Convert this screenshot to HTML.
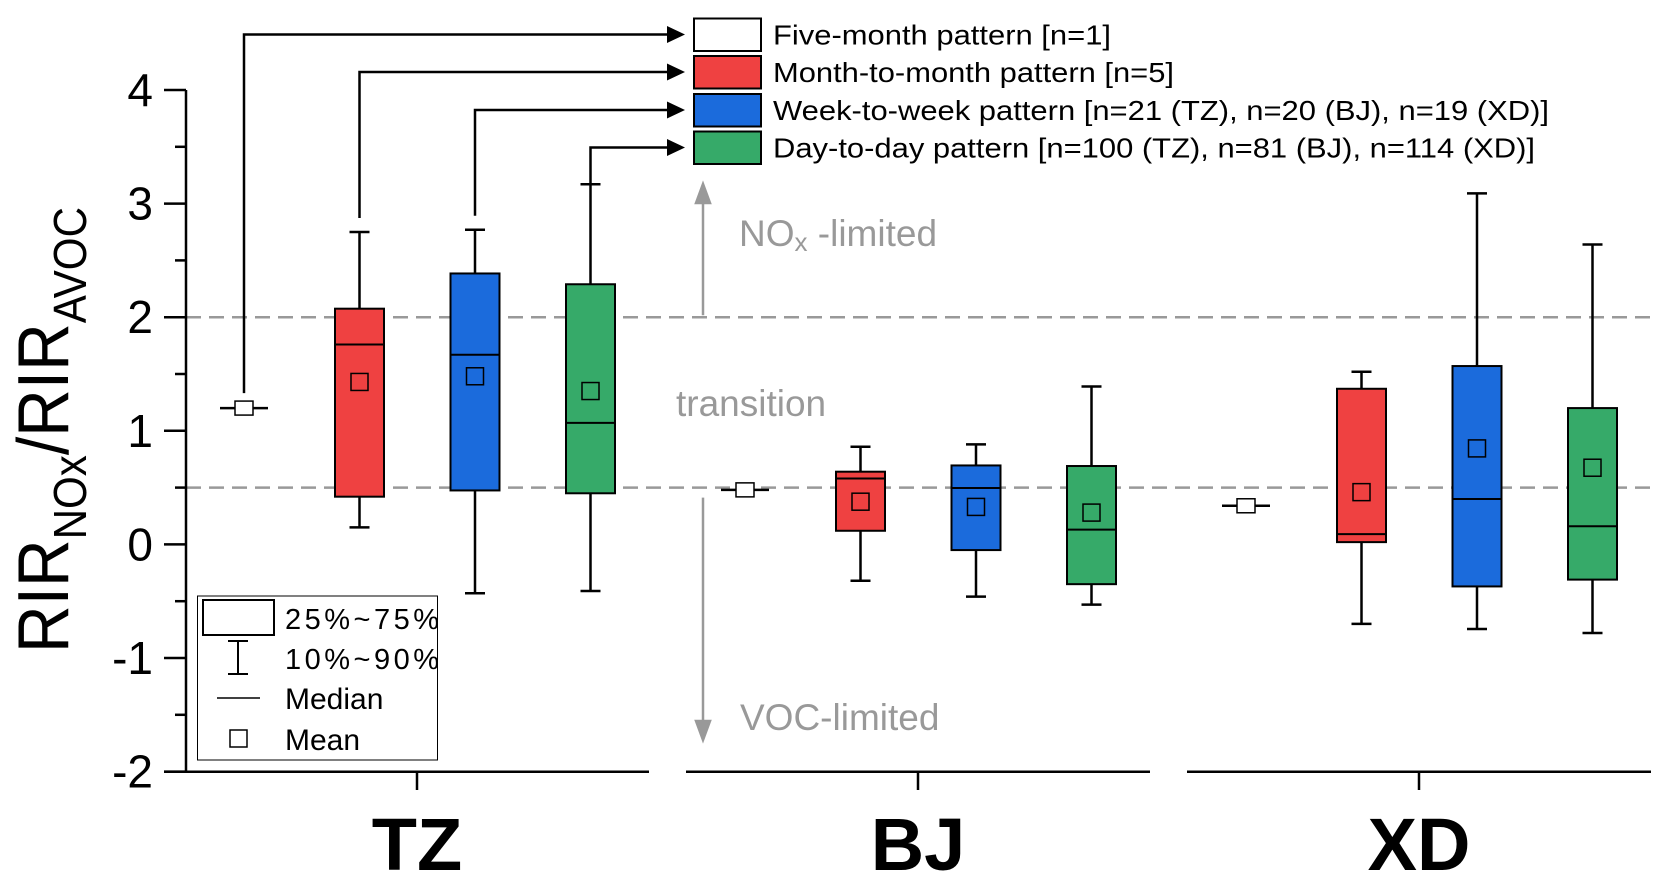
<!DOCTYPE html>
<html><head><meta charset="utf-8"><style>
html,body{margin:0;padding:0;background:#fff;}
svg{display:block;font-family:"Liberation Sans",Arial,sans-serif;}
</style></head><body>
<svg id="chart" width="1671" height="888" viewBox="0 0 1671 888" xmlns="http://www.w3.org/2000/svg">
<g id="grid"></g>
<g id="axes"></g>
<g id="boxes"></g>
<g id="legend"></g>
<g id="annot">
  <text x="739" y="246" font-size="37" fill="#999">NO<tspan font-size="26" dy="5">x</tspan><tspan dy="-5"> -limited</tspan></text>
  <text x="676" y="416" font-size="37" fill="#999">transition</text>
  <text x="740" y="730" font-size="37" fill="#999">VOC-limited</text>
</g>
<text transform="translate(68,430) rotate(-90)" text-anchor="middle" font-size="72" textLength="446" lengthAdjust="spacingAndGlyphs">RIR<tspan font-size="46" dy="18">NOx</tspan><tspan dy="-18">/RIR</tspan><tspan font-size="46" dy="18">AVOC</tspan></text>
<g>
  <rect x="197.5" y="596" width="240" height="164" fill="#fff" stroke="#000" stroke-width="1"/>
  <rect x="203" y="600" width="71" height="35" fill="#fff" stroke="#000" stroke-width="2"/>
  <text x="285" y="629" font-size="29" textLength="154" lengthAdjust="spacing">25%~75%</text>
  <path d="M228 641H248M238 641V674M228 674H248" stroke="#000" stroke-width="2" fill="none"/>
  <text x="285" y="669" font-size="29" textLength="154" lengthAdjust="spacing">10%~90%</text>
  <path d="M217 698H260" stroke="#000" stroke-width="1.5"/>
  <text x="285" y="709" font-size="30">Median</text>
  <rect x="230" y="730" width="17" height="17" fill="none" stroke="#000" stroke-width="1.5"/>
  <text x="285" y="750" font-size="30">Mean</text>
</g>
</svg>
<script>
const sites=["TZ","BJ","XD"];
const patterns=["Five-month pattern [n=1]","Month-to-month pattern [n=5]","Week-to-week pattern [n=21 (TZ), n=20 (BJ), n=19 (XD)]","Day-to-day pattern [n=100 (TZ), n=81 (BJ), n=114 (XD)]"];
const colors=["#ffffff","#EF4141","#1B6BDC","#36AA69"];
const yTicks=[4,3,2,1,0,-1,-2];
const thresholds=[2,0.5];
// per site, per pattern: [p10,q1,median,q3,p90,mean]
const tzStats=[[1.2,1.2,1.2,1.2,1.2,1.2],[0.15,0.42,1.76,2.075,2.75,1.43],[-0.43,0.475,1.67,2.385,2.77,1.48],[-0.41,0.45,1.07,2.29,3.17,1.35]];
const bjStats=[[0.48,0.48,0.48,0.48,0.48,0.48],[-0.32,0.12,0.58,0.64,0.86,0.376],[-0.46,-0.05,0.496,0.695,0.88,0.33],[-0.53,-0.35,0.13,0.69,1.39,0.28]];
const xdStats=[[0.34,0.34,0.34,0.34,0.34,0.34],[-0.70,0.02,0.09,1.37,1.52,0.46],[-0.745,-0.37,0.40,1.57,3.09,0.845],[-0.78,-0.31,0.16,1.20,2.64,0.675]];
const allStats=[tzStats,bjStats,xdStats];
const legendTextLen=[338,401,776,762];

const NS="http://www.w3.org/2000/svg";
function mk(tag,attrs,parent){const e=document.createElementNS(NS,tag);for(const k in attrs)e.setAttribute(k,attrs[k]);parent.appendChild(e);return e;}
const y=v=>544.4-v*113.6;
const siteX=i=>417+i*501;
const boxX=(s,p)=>244+s*501+p*115.5;
const axes=document.getElementById('axes'),grid=document.getElementById('grid'),boxes=document.getElementById('boxes'),legend=document.getElementById('legend');

thresholds.forEach(t=>{
  const l=mk('line',{x1:186,x2:1651,y1:y(t),y2:y(t),stroke:'#999','stroke-width':2.5,'stroke-dasharray':'15 8'},grid);
  
  
});
let ya=mk('line',{x1:186,x2:186,y1:y(4),y2:y(-2),stroke:'#000','stroke-width':2.5},axes);


yTicks.forEach(t=>{
  let tk=mk('line',{x1:164,x2:186,y1:y(t),y2:y(t),stroke:'#000','stroke-width':2.5},axes);
  
  
  let tx=mk('text',{x:153,y:y(t)+16,'text-anchor':'end','font-size':46},axes);
  tx.textContent=t;
  
  
  if(t>-2){let m=mk('line',{x1:175,x2:186,y1:y(t-0.5),y2:y(t-0.5),stroke:'#000','stroke-width':2.5},axes);
    
    }
});
const segs=[[164,649],[686,1150],[1187,1651]];
sites.forEach((s,i)=>{
  let l=mk('line',{x1:segs[i][0],x2:segs[i][1],y1:771.7,y2:771.7,stroke:'#000','stroke-width':2.5},axes);
  
  
  let tk=mk('line',{x1:siteX(i),x2:siteX(i),y1:771.7,y2:790,stroke:'#000','stroke-width':2.5},axes);
  
  
  let tx=mk('text',{x:siteX(i),y:870,'text-anchor':'middle','font-size':74,'font-weight':'bold'},axes);
  tx.textContent=s;
  
  
});
allStats.forEach((site,si)=>{
  site.forEach((d,pi)=>{
    const cx=boxX(si,pi);
    const g=mk('g',{},boxes);
    
    
    if(pi===0){
      mk('line',{x1:cx-24,x2:cx+24,y1:y(d[2]),y2:y(d[2]),stroke:'#000','stroke-width':2.5},g);
      mk('rect',{x:cx-9,y:y(d[5])-7,width:18,height:14,fill:'#fff',stroke:'#000','stroke-width':1.5},g);
      return;
    }
    mk('path',{d:`M${cx} ${y(d[4])}V${y(d[3])}M${cx} ${y(d[1])}V${y(d[0])}M${cx-10} ${y(d[4])}H${cx+10}M${cx-10} ${y(d[0])}H${cx+10}`,stroke:'#000','stroke-width':2.5,fill:'none'},g);
    mk('rect',{x:cx-24.5,y:y(d[3]),width:49,height:y(d[1])-y(d[3]),fill:colors[pi],stroke:'#000','stroke-width':2},g);
    mk('line',{x1:cx-24.5,x2:cx+24.5,y1:y(d[2]),y2:y(d[2]),stroke:'#000','stroke-width':2},g);
    mk('rect',{x:cx-8.5,y:y(d[5])-8.5,width:17,height:17,fill:'none',stroke:'#000','stroke-width':1.5},g);
  });
});
const legY=[34.5,72,110,147.5];
patterns.forEach((p,i)=>{
  const g=mk('g',{},legend);
  
  
  mk('rect',{x:694,y:legY[i]-16,width:67,height:32.5,fill:colors[i],stroke:'#000','stroke-width':2},g);
  const t=mk('text',{x:773,y:legY[i]+10,'font-size':28,textLength:legendTextLen[i],lengthAdjust:'spacingAndGlyphs'},g);
  t.textContent=p;
  const cx=boxX(0,i);
  const startY=i===0?y(tzStats[0][2])-15:y(tzStats[i][4])-(i===3?0:14);
  mk('path',{d:`M${cx} ${startY}V${legY[i]}H668`,stroke:'#000','stroke-width':2.5,fill:'none'},g);
  mk('path',{d:`M667 ${legY[i]-8.5}L685 ${legY[i]}L667 ${legY[i]+8.5}Z`,fill:'#000'},g);
});
const an=document.getElementById('annot');
let ua=mk('path',{d:`M703 ${y(2)-2}V200M696 203L703 184L710 203Z`,stroke:'#999','stroke-width':2.5,fill:'#999'},an);


let da=mk('path',{d:`M703 ${y(0.5)+10}V725M696 721L703 740L710 721Z`,stroke:'#999','stroke-width':2.5,fill:'#999'},an);


</script>
</body></html>
